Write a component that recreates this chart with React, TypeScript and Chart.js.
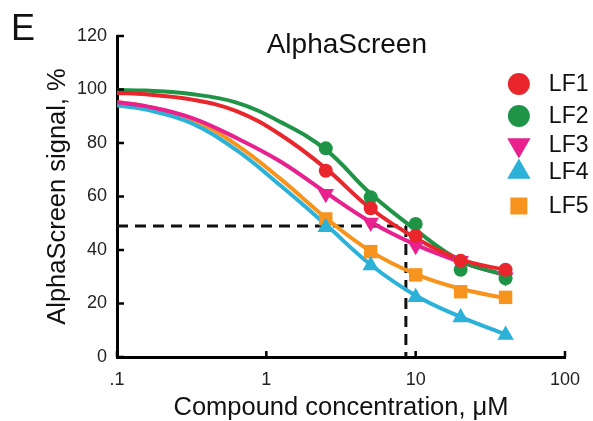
import React, { useEffect, useRef } from 'react';
import { Chart, registerables } from 'chart.js';

Chart.register(...registerables);

// ---------- data ----------
const concentrations = [2.5, 5, 10, 20, 40];
const lf1Points = [69.6, 55.6, 45.3, 36, 32.6];
const lf2Points = [78, 59.7, 49.7, 32.6, 29.4];
const lf3Points = [61, 50.3, 41.6, 36, 29.8];
const lf4Points = [48.5, 34.2, 22.3, 14.8, 8.2];
const lf5Points = [51.6, 39.4, 30.7, 24.4, 22.3];

const curveX = [0.1, 0.156, 0.3125, 0.625, 1.25, 2.5, 5, 10, 20, 40];
const lf1Curve = [98.7, 98.2, 96.3, 92, 83, 70.5, 55.5, 44.5, 36.5, 32.5];
const lf2Curve = [99.8, 99.6, 98.3, 95.2, 87.8, 77.5, 61, 47.5, 36, 30.5];
const lf3Curve = [95.2, 93.8, 89.5, 82, 73, 61.5, 50.5, 42, 35.5, 30.5];
const lf4Curve = [94, 92.5, 87.5, 77.5, 64, 49.5, 34.5, 23, 15, 8.5];
const lf5Curve = [95.2, 93.7, 89, 79.5, 66.5, 52, 39.5, 31, 25.5, 22];

const seriesNames = ['LF1', 'LF2', 'LF3', 'LF4', 'LF5'];
const xTickValues = [0.1, 1, 10, 100];
const xTickLabels = ['.1', '1', '10', '100'];
const yTickValues = [0, 20, 40, 60, 80, 100, 120];
const ic50X = 8.6;
const ic50Y = 49;

const chartTitle = 'AlphaScreen';
const panelLabel = 'E';
const xAxisTitle = 'Compound concentration, \u03bcM';
const yAxisTitle = 'AlphaScreen signal, %';

// ---------- styles ----------
const FONT = '"Liberation Sans", Arial, Helvetica, sans-serif';
const colors = ['#e8262b', '#1f9447', '#e8218f', '#2cb1d9', '#f7941d'];
const shapes = ['circle', 'circle', 'triangle', 'triangle', 'rect'];
const rotations = [0, 0, 180, 0, 0];
const pointRadii = [7, 7, 9.5, 9.5, 9.5];
const legendRadii = [11, 11, 13.5, 13.5, 12];

const pointsSets = [lf1Points, lf2Points, lf3Points, lf4Points, lf5Points];
const curveSets = [lf1Curve, lf2Curve, lf3Curve, lf4Curve, lf5Curve];

function drawMarker(ctx: CanvasRenderingContext2D, shape: string, rot: number, x: number, y: number, r: number) {
  ctx.beginPath();
  if (shape === 'circle') {
    ctx.arc(x, y, r, 0, Math.PI * 2);
  } else if (shape === 'triangle') {
    const base = (rot * Math.PI) / 180 - Math.PI / 2;
    for (let k = 0; k < 3; k++) {
      const a = base + (k * 2 * Math.PI) / 3;
      const px = x + Math.cos(a) * r;
      const py = y + Math.sin(a) * r;
      if (k === 0) ctx.moveTo(px, py);
      else ctx.lineTo(px, py);
    }
    ctx.closePath();
  } else {
    const s = r * Math.SQRT1_2;
    ctx.rect(x - s, y - s, 2 * s, 2 * s);
  }
  ctx.fill();
}

const overlayPlugin = {
  id: 'overlay',
  afterDraw(chart: any) {
    const { ctx, chartArea, scales } = chart;
    const { left, right, top, bottom } = chartArea;
    const w = right - left;
    ctx.save();
    // inner tick marks
    ctx.strokeStyle = '#000';
    ctx.lineWidth = 2.5;
    ctx.beginPath();
    xTickValues.forEach((v) => {
      const px = scales.x.getPixelForValue(v);
      ctx.moveTo(px, bottom);
      ctx.lineTo(px, bottom - 6);
    });
    yTickValues.forEach((v) => {
      const py = scales.y.getPixelForValue(v);
      ctx.moveTo(left, py);
      ctx.lineTo(left + 7, py);
    });
    ctx.stroke();

    // panel label
    ctx.fillStyle = '#111';
    ctx.textAlign = 'left';
    ctx.textBaseline = 'alphabetic';
    ctx.font = `36px ${FONT}`;
    ctx.fillText(panelLabel, 11, 40);

    // title
    ctx.font = `28px ${FONT}`;
    ctx.textAlign = 'center';
    ctx.fillText(chartTitle, left + w * 0.513, top + 17);

    // legend
    const legendRows = [48, 80, 109, 136, 170];
    const markerX = left + w * 0.897;
    const textX = left + w * 0.964;
    ctx.textAlign = 'left';
    ctx.textBaseline = 'middle';
    ctx.font = `23px ${FONT}`;
    seriesNames.forEach((name, i) => {
      const y = top + legendRows[i];
      ctx.fillStyle = colors[i];
      drawMarker(ctx, shapes[i], rotations[i], markerX, y, legendRadii[i]);
      ctx.fillStyle = '#111';
      ctx.fillText(name, textX, y + 1);
    });
    ctx.restore();
  },
};

export default function App() {
  const canvasRef = useRef<HTMLCanvasElement | null>(null);

  useEffect(() => {
    if (!canvasRef.current) return;

    const pointDatasets = seriesNames.map((name, i) => ({
      label: name,
      data: concentrations.map((x, j) => ({ x, y: pointsSets[i][j] })),
      showLine: false,
      pointStyle: shapes[i],
      rotation: rotations[i],
      pointRadius: pointRadii[i],
      pointBackgroundColor: colors[i],
      pointBorderColor: colors[i],
      pointBorderWidth: 0,
      borderColor: colors[i],
      backgroundColor: colors[i],
    }));

    const curveDatasets = seriesNames.map((name, i) => ({
      label: name + ' fit',
      data: curveX.map((x, j) => ({ x, y: curveSets[i][j] })),
      showLine: true,
      pointRadius: 0,
      borderColor: colors[i],
      borderWidth: 4,
      tension: 0.4,
      fill: false,
    }));

    const dashDatasets = [
      {
        label: 'ic50-h',
        data: [
          { x: xTickValues[0], y: ic50Y },
          { x: ic50X, y: ic50Y },
        ],
        showLine: true,
        pointRadius: 0,
        borderColor: '#111',
        borderWidth: 3,
        borderDash: [11, 7],
        fill: false,
      },
      {
        label: 'ic50-v',
        data: [
          { x: ic50X, y: ic50Y },
          { x: ic50X, y: 0 },
        ],
        showLine: true,
        pointRadius: 0,
        borderColor: '#111',
        borderWidth: 3,
        borderDash: [11, 7],
        fill: false,
      },
    ];

    const chart = new Chart(canvasRef.current, {
      type: 'line',
      data: { datasets: [...pointDatasets, ...curveDatasets, ...dashDatasets] as any },
      options: {
        animation: false,
        responsive: true,
        maintainAspectRatio: false,
        layout: { padding: { left: 0, top: 36, right: 28, bottom: 0 } },
        plugins: {
          legend: { display: false },
          tooltip: { enabled: false },
          title: { display: false },
        },
        scales: {
          x: {
            type: 'logarithmic',
            min: 0.1,
            max: 100,
            grid: { display: false, drawTicks: false },
            border: { display: true, color: '#000', width: 3 },
            afterBuildTicks: (scale: any) => {
              scale.ticks = xTickValues.map((v) => ({ value: v }));
            },
            afterFit: (scale: any) => {
              scale.height = 64;
            },
            ticks: {
              padding: 12,
              color: '#222',
              font: { family: FONT, size: 18 },
              autoSkip: false,
              maxRotation: 0,
              callback: (value: any) => {
                const idx = xTickValues.findIndex((v) => Math.abs(v - Number(value)) < 1e-9);
                return idx >= 0 ? xTickLabels[idx] : '';
              },
            },
            title: {
              display: true,
              text: xAxisTitle,
              color: '#111',
              font: { family: FONT, size: 25.5, lineHeight: 1 },
              padding: { top: 0, bottom: 0 },
            },
          },
          y: {
            type: 'linear',
            min: 0,
            max: 120,
            grid: { display: false, drawTicks: false },
            border: { display: true, color: '#000', width: 3 },
            afterBuildTicks: (scale: any) => {
              scale.ticks = yTickValues.map((v) => ({ value: v }));
            },
            afterFit: (scale: any) => {
              scale.width = 117;
            },
            ticks: {
              padding: 10,
              color: '#222',
              font: { family: FONT, size: 18 },
            },
            title: {
              display: true,
              text: yAxisTitle,
              color: '#111',
              font: { family: FONT, size: 25.5, lineHeight: 1 },
              padding: { top: 45, bottom: 0 },
            },
          },
        },
      } as any,
      plugins: [overlayPlugin],
    });

    return () => chart.destroy();
  }, []);

  return (
    <div style={{ position: 'absolute', left: 0, top: 0, width: 593, height: 421, background: '#fff' }}>
      <canvas ref={canvasRef} />
    </div>
  );
}
